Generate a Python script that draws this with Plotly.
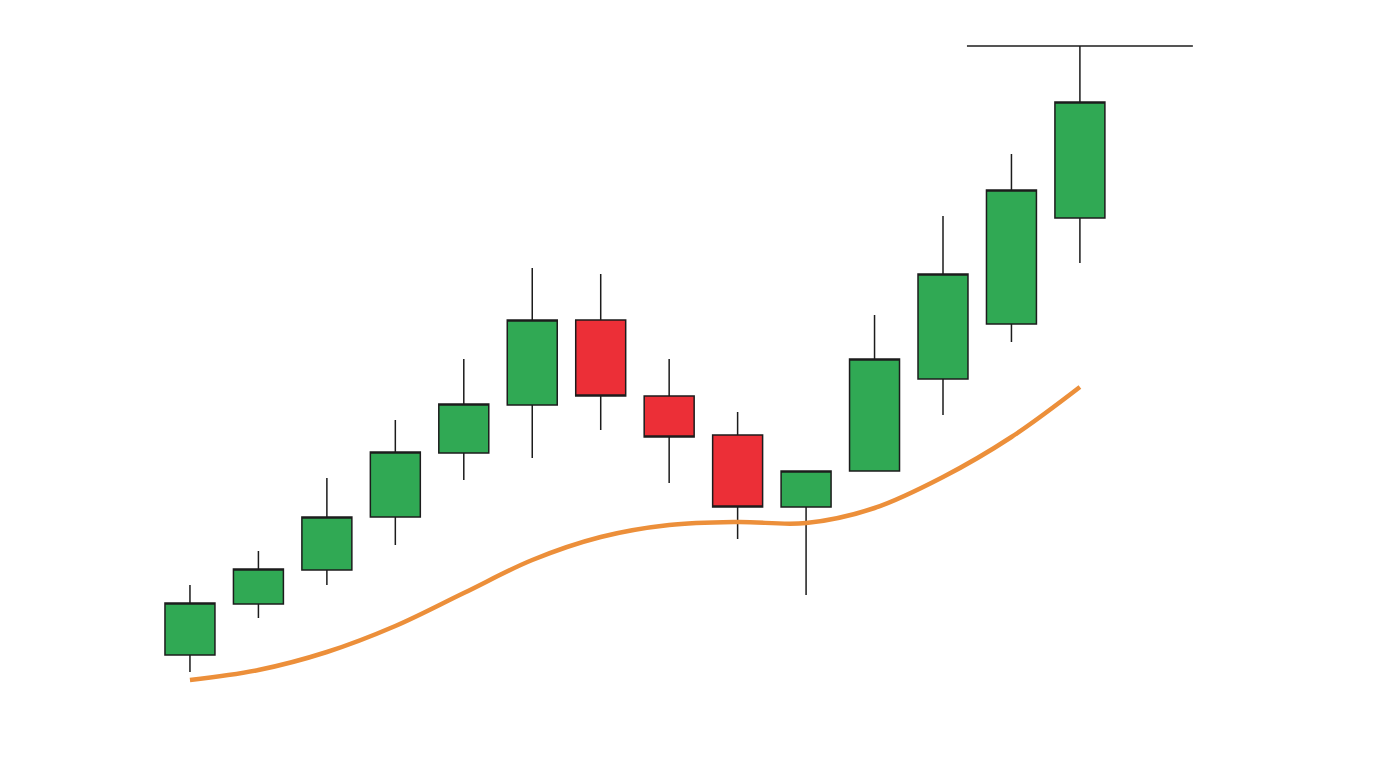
import plotly.graph_objects as go

# candle data, one entry per session
sessions = list(range(14))
open_prices = [14.5, 19.6, 23.0, 28.3, 34.7, 39.5, 48.0, 40.4, 36.5, 29.3, 32.9, 42.1, 47.6, 58.2]
high_prices = [21.5, 24.9, 32.2, 38.0, 44.1, 53.2, 52.6, 44.1, 38.8, 32.9, 48.5, 58.4, 64.6, 75.4]
low_prices = [12.8, 18.2, 21.5, 25.5, 32.0, 34.2, 37.0, 31.7, 26.1, 20.5, 32.9, 38.5, 45.8, 53.7]
close_prices = [19.7, 23.1, 28.3, 34.8, 39.6, 48.0, 40.4, 36.3, 29.3, 32.9, 44.1, 52.6, 61.0, 69.8]

# smoothed moving average under the candles
moving_avg = [12.0, 13.0, 14.8, 17.4, 20.7, 24.0, 26.3, 27.5, 27.8, 27.7, 29.2, 32.3, 36.3, 41.3]

# horizontal level drawn at the last high
level_x = [11.35, 14.65]
level_y = [75.4, 75.4]

GREEN = "#30a954"
RED = "#ec2f37"
ORANGE = "#ec8f3a"


def build_figure():
    fig = go.Figure()

    fig.add_trace(go.Candlestick(
        x=sessions,
        open=open_prices,
        high=high_prices,
        low=low_prices,
        close=close_prices,
        increasing=dict(fillcolor=GREEN, line=dict(color="#1c1c1c", width=1.5)),
        decreasing=dict(fillcolor=RED, line=dict(color="#1c1c1c", width=1.5)),
        whiskerwidth=0,
        hoverinfo="skip",
    ))

    fig.add_trace(go.Scatter(
        x=sessions,
        y=moving_avg,
        mode="lines",
        line=dict(color=ORANGE, width=4.5, shape="spline", smoothing=1.0),
        hoverinfo="skip",
    ))

    fig.add_trace(go.Scatter(
        x=level_x,
        y=level_y,
        mode="lines",
        line=dict(color="#1c1c1c", width=1.5),
        hoverinfo="skip",
    ))

    # ranges are nudged to make up for the page's 8px body margin
    fig.update_layout(
        width=1376,
        height=768,
        margin=dict(l=0, r=0, t=0, b=0),
        paper_bgcolor="white",
        plot_bgcolor="white",
        showlegend=False,
        boxgap=0.27,
        boxgroupgap=0,
        xaxis=dict(
            range=[-2.658, 17.442],
            visible=False,
            rangeslider=dict(visible=False),
            fixedrange=True,
        ),
        yaxis=dict(range=[2.4, 79.2], visible=False, fixedrange=True),
    )
    return fig


def main():
    fig = build_figure()
    fig.write_html("out.html")


if __name__ == "__main__":
    main()
